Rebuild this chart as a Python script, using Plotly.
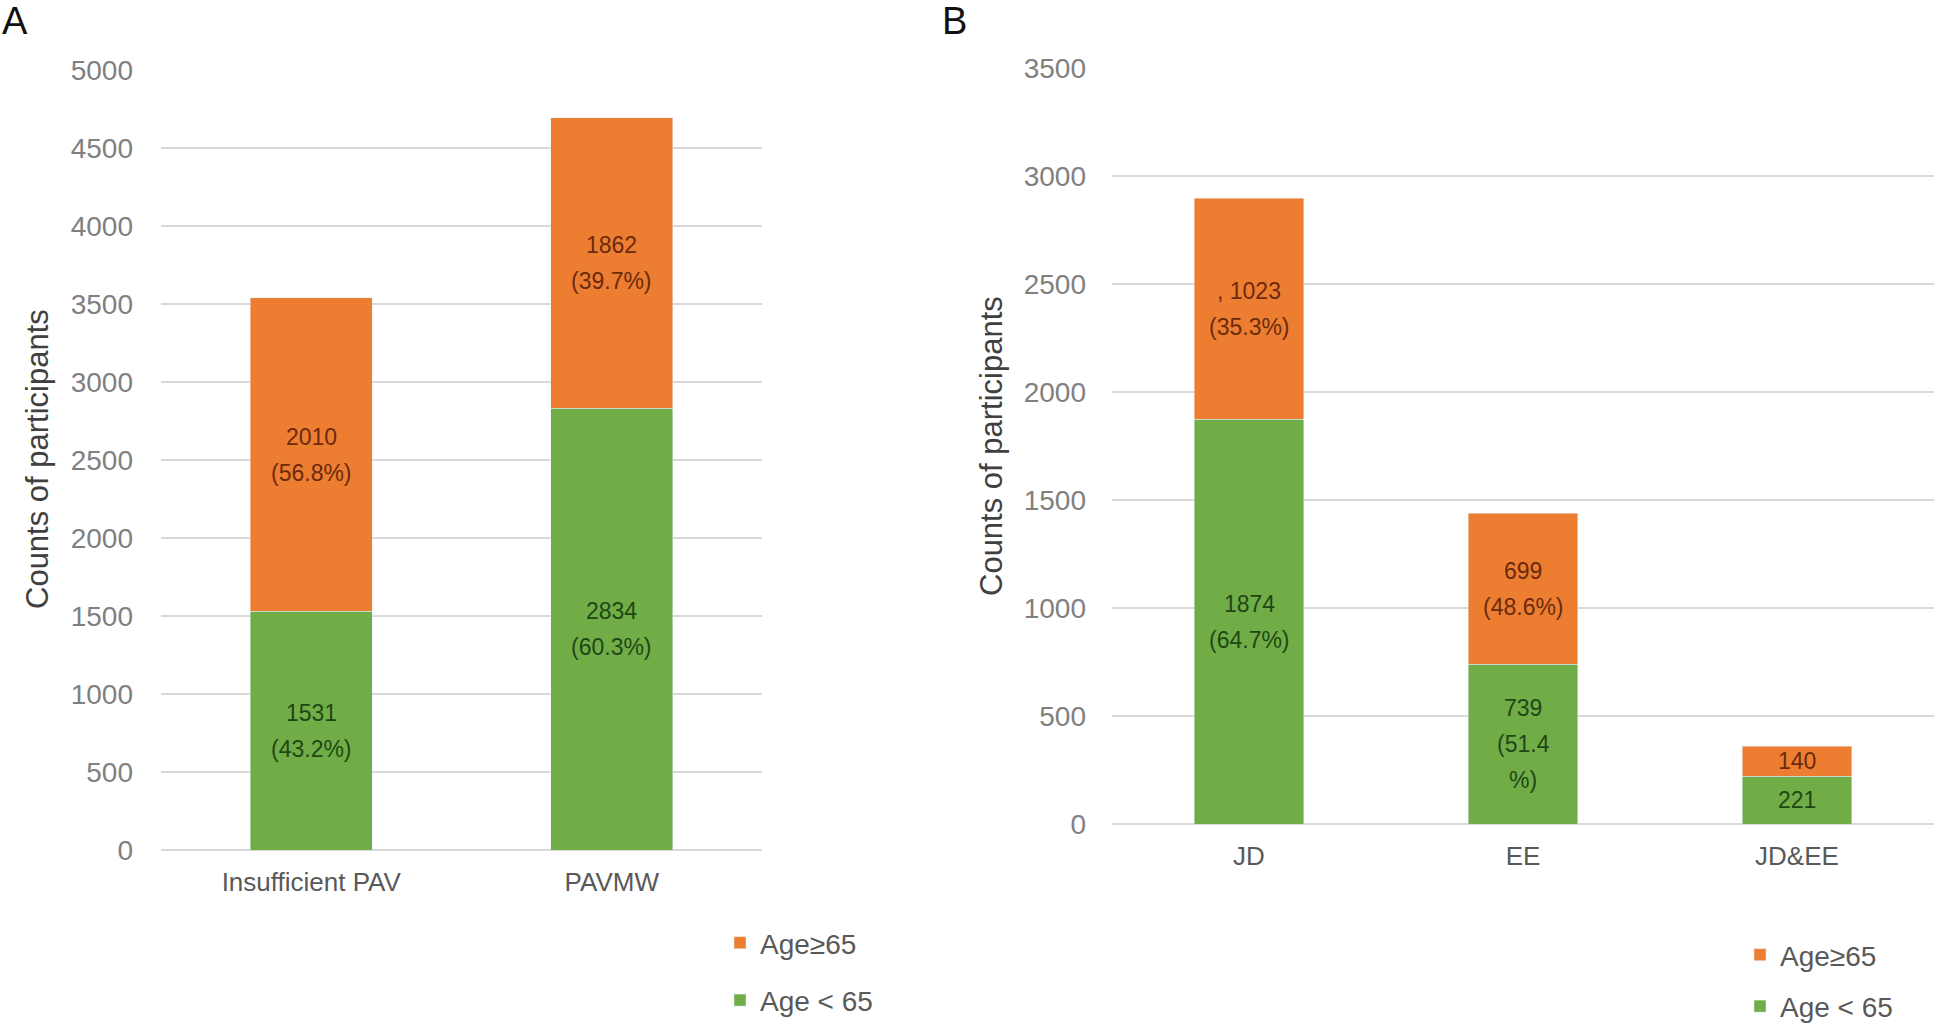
import plotly.graph_objects as go

# ---- Data ----
cats_a = ["Insufficient PAV", "PAVMW"]
young_a = [1531, 2834]
old_a = [2010, 1862]
young_a_lbl = ["1531<br>(43.2%)", "2834<br>(60.3%)"]
old_a_lbl = ["2010<br>(56.8%)", "1862<br>(39.7%)"]

cats_b = ["JD", "EE", "JD&EE"]
young_b = [1874, 739, 221]
old_b = [1023, 699, 140]
young_b_lbl = ["1874<br>(64.7%)", "739<br>(51.4<br>%)", "221"]
old_b_lbl = [", 1023<br>(35.3%)", "699<br>(48.6%)", "140"]

ticks_a = [0, 500, 1000, 1500, 2000, 2500, 3000, 3500, 4000, 4500, 5000]
ticks_b = [0, 500, 1000, 1500, 2000, 2500, 3000, 3500]

ORANGE = "#ED7D31"
GREEN = "#70AD47"
ORANGE_TXT = "#6B2A0E"
GREEN_TXT = "#1F4715"
TICK = "#808080"
GRID = "#D9D9D9"

W, H = 1944, 1026
OFF = 0  # page body margin removed via post_script


def px(v):
    return (v - OFF) / W


def py(v):
    return 1 - (v - OFF) / H


fig = go.Figure()

fig.add_bar(x=cats_a, y=young_a, name="Age < 65", marker_color=GREEN,
            xaxis="x", yaxis="y", legend="legend", legendrank=2,
            legendgroup="a2", width=0.405)
fig.add_bar(x=cats_a, y=old_a, name="Age≥65", marker_color=ORANGE,
            xaxis="x", yaxis="y", legend="legend", legendrank=1,
            legendgroup="a1", width=0.405)
fig.add_bar(x=cats_b, y=young_b, name="Age < 65", marker_color=GREEN,
            xaxis="x2", yaxis="y2", legend="legend2", legendrank=2,
            legendgroup="b2", width=0.40)
fig.add_bar(x=cats_b, y=old_b, name="Age≥65", marker_color=ORANGE,
            xaxis="x2", yaxis="y2", legend="legend2", legendrank=1,
            legendgroup="b1", width=0.40)

annotations = []
LINE = 36


def seg_labels(cats, bases, vals, labels, color, xr, yr):
    for c, b, v, lbl in zip(cats, bases, vals, labels):
        lines = lbl.split("<br>")
        n = len(lines)
        for i, ln in enumerate(lines):
            off = ((n - 1) / 2 - i) * LINE
            annotations.append(dict(
                x=c, y=b + v / 2, xref=xr, yref=yr, text=ln, showarrow=False,
                yshift=off, font=dict(family="Liberation Sans", size=23, color=color),
                xanchor="center", yanchor="middle"))


seg_labels(cats_a, [0] * len(cats_a), young_a, young_a_lbl, GREEN_TXT, "x", "y")
seg_labels(cats_a, young_a, old_a, old_a_lbl, ORANGE_TXT, "x", "y")
seg_labels(cats_b, [0] * len(cats_b), young_b, young_b_lbl, GREEN_TXT, "x2", "y2")
seg_labels(cats_b, young_b, old_b, old_b_lbl, ORANGE_TXT, "x2", "y2")

# axis titles and panel letters
title_font = dict(family="Liberation Sans", size=31, color="#404040")
annotations.append(dict(x=px(37), y=py(459), xref="paper", yref="paper",
                        text="Counts of participants", textangle=-90, showarrow=False,
                        xanchor="center", yanchor="middle", font=title_font))
annotations.append(dict(x=px(992), y=py(446), xref="paper", yref="paper",
                        text="Counts of participants", textangle=-90, showarrow=False,
                        xanchor="center", yanchor="middle", font=title_font))
annotations.append(dict(x=px(0), y=py(21), xref="paper", yref="paper", text="A",
                        showarrow=False, xanchor="left", yanchor="middle",
                        font=dict(family="Liberation Sans", size=38, color="#111111")))
annotations.append(dict(x=px(940), y=py(21), xref="paper", yref="paper", text="B",
                        showarrow=False, xanchor="left", yanchor="middle",
                        font=dict(family="Liberation Sans", size=38, color="#111111")))

tickfont = dict(family="Liberation Sans", size=28, color=TICK)
catfont = dict(family="Liberation Sans", size=26, color="#595959")
legfont = dict(family="Liberation Sans", size=28, color="#595959")

fig.update_layout(
    width=W, height=H, margin=dict(l=0, r=0, t=0, b=0, autoexpand=False),
    paper_bgcolor="white", plot_bgcolor="white", barmode="stack",
    annotations=annotations,
    xaxis=dict(domain=[px(161), px(762)], anchor="y", tickfont=catfont,
               showgrid=False, showline=False, ticks="", ticklabelstandoff=14,
               automargin=False),
    yaxis=dict(domain=[py(850), py(70.5)], anchor="x", range=[0, 5000],
               tickvals=ticks_a, tickfont=tickfont, showgrid=True, gridcolor=GRID,
               gridwidth=2, zeroline=True, zerolinecolor=GRID, zerolinewidth=2,
               showline=False, ticks="", ticklabelstandoff=27, automargin=False),
    xaxis2=dict(domain=[px(1112), px(1934)], anchor="y2", tickfont=catfont,
                showgrid=False, showline=False, ticks="", ticklabelstandoff=14,
                automargin=False),
    yaxis2=dict(domain=[py(824), py(68)], anchor="x2", range=[0, 3500],
                tickvals=ticks_b, tickfont=tickfont, showgrid=True, gridcolor=GRID,
                gridwidth=2, zeroline=True, zerolinecolor=GRID, zerolinewidth=2,
                showline=False, ticks="", ticklabelstandoff=25, automargin=False),
    legend=dict(x=px(720), y=py(918), xanchor="left", yanchor="top",
                traceorder="grouped", tracegroupgap=18, itemclick=False,
                font=legfont, bgcolor="rgba(0,0,0,0)"),
    legend2=dict(x=px(1740), y=py(930), xanchor="left", yanchor="top",
                 traceorder="grouped", tracegroupgap=12, itemclick=False,
                 font=legfont, bgcolor="rgba(0,0,0,0)"),
    showlegend=True,
)

fig.write_html("out.html",
               config={"displayModeBar": False},
               post_script="document.body.style.margin='0';"
                           "document.body.style.overflow='hidden';")
